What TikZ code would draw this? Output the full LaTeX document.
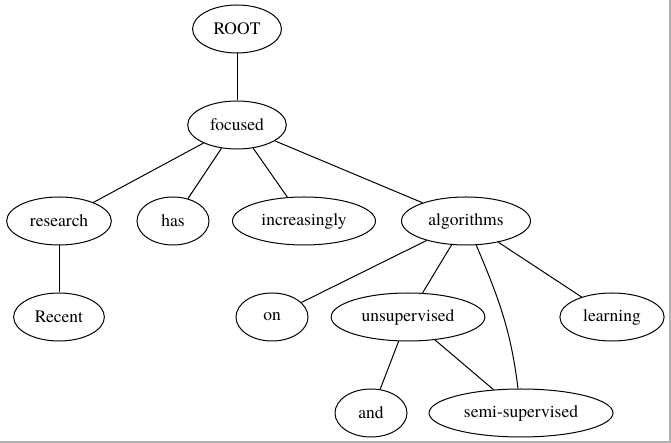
\documentclass[tikz,border=0pt]{standalone}
\usepackage{fontspec}
\newfontfamily\wordfont{texgyretermes-regular.otf}
\usetikzlibrary{shapes}

\begin{document}
\begin{tikzpicture}[x=1pt,y=1pt,line width=1pt,
font=\wordfont\fontsize{17.5}{20}\selectfont]

\tikzstyle{w} = [draw, shape=ellipse, minimum width=72pt, minimum height=48pt, inner xsep=8pt]
\useasboundingbox (0,0) rectangle (671,443);
\draw[gray!60, line width=1.5pt] (670,443) -- (670,1) -- (0,1);

% words
\node[w] (root) at (237,414) {ROOT};
\node[w] (focused) at (237,318) {focused};
\node[w] (research) at (59,222) {research};
\node[w] (has) at (173,222) {has};
\node[w] (increasingly) at (304,222) {increasingly};
\node[w] (algorithms) at (466,222) {algorithms};
\node[w] (recent) at (59,126) {Recent};
\node[w] (on) at (272,126) {on};
\node[w] (unsupervised) at (408,126) {unsupervised};
\node[w] (learning) at (612,126) {learning};
\node[w] (and) at (371,30) {and};
\node[w] (semi) at (521,30) {semi-supervised};

% edges
\draw (root) -- (focused);
\draw (focused) -- (research);
\draw (focused) -- (has);
\draw (focused) -- (increasingly);
\draw (focused) -- (algorithms);
\draw (research) -- (recent);
\draw (algorithms) -- (on);
\draw (algorithms) -- (unsupervised);
\draw (algorithms) to[out=-67,in=97] (semi);
\draw (algorithms) -- (learning);
\draw (unsupervised) -- (and);
\draw (unsupervised) -- (semi);
\end{tikzpicture}
\end{document}
